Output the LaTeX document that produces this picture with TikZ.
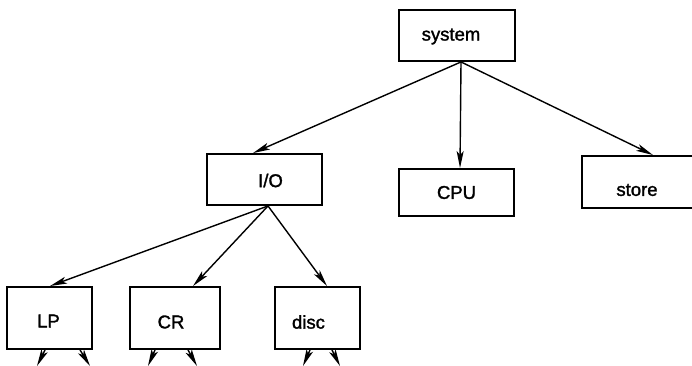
\documentclass[tikz,border=0pt]{standalone}
\usepackage{fontspec}
\setmainfont{Liberation Sans}[FakeBold=1.5]
\usetikzlibrary{arrows.meta}
\tikzset{
  box/.style={draw, line width=1.9pt, rectangle, inner sep=0pt},
  link/.style={line width=1.4pt, -{Stealth[length=17pt,width=7pt,inset=4pt]}},
  every label/.style={font=\fontsize{18.5}{20}\selectfont, inner sep=0pt}
}
\begin{document}
\begin{tikzpicture}[x=1pt,y=-1pt]
\useasboundingbox (0,0) rectangle (692,366);
\clip (0,0) rectangle (692,366);

% top level
\node[box, minimum width=116pt, minimum height=51pt,
      label={[xshift=-6pt,yshift=-1pt]center:system}] (sys) at (457,35.5) {};

% second level
\node[box, minimum width=115pt, minimum height=51pt,
      label={[xshift=6pt,yshift=-1pt]center:I/O}] (io) at (264.5,179.5) {};
\node[box, minimum width=115pt, minimum height=47pt,
      label={center:CPU}] (cpu) at (456.5,192.5) {};
\node[box, minimum width=118pt, minimum height=52pt,
      label={[xshift=-4pt,yshift=-8pt]center:store}] (store) at (641,182) {};

% third level
\node[box, minimum width=85pt, minimum height=62pt,
      label={[xshift=-1pt,yshift=-3pt]center:LP}] (lp) at (49.5,318) {};
\node[box, minimum width=90pt, minimum height=62pt,
      label={[xshift=-4pt,yshift=-4pt]center:CR}] (cr) at (175,318) {};
\node[box, minimum width=85pt, minimum height=62pt,
      label={[xshift=-9pt,yshift=-4pt]center:disc}] (disc) at (317.5,318) {};

% connectors from system
\draw[link] ([xshift=4pt]sys.south) -- ([xshift=-11.5pt]io.north);
\draw[link] ([xshift=4pt]sys.south) -- ([xshift=3.5pt]cpu.north);
\draw[link] ([xshift=4pt]sys.south) -- ([xshift=12pt]store.north);

% connectors from I/O
\draw[link] ([xshift=3.5pt]io.south) -- ([xshift=0.5pt]lp.north);
\draw[link] ([xshift=3.5pt]io.south) -- ([xshift=18pt]cr.north);
\draw[link] ([xshift=3.5pt]io.south) -- ([xshift=9.5pt]disc.north);

% leads to lower levels, running off the bottom
\coordinate (lpa) at (37,366);
\coordinate (lpb) at (90,366);
\coordinate (cra) at (148,366);
\coordinate (crb) at (197,366);
\coordinate (dia) at (303,366);
\coordinate (dib) at (340,366);
\draw[link] ([xshift=-4.5pt]lp.south) -- (lpa);
\draw[link] ([xshift=30.5pt]lp.south) -- (lpb);
\draw[link] ([xshift=-20pt]cr.south) -- (cra);
\draw[link] ([xshift=13pt]cr.south) -- (crb);
\draw[link] ([xshift=-7.5pt]disc.south) -- (dia);
\draw[link] ([xshift=14.5pt]disc.south) -- (dib);
\end{tikzpicture}
\end{document}
